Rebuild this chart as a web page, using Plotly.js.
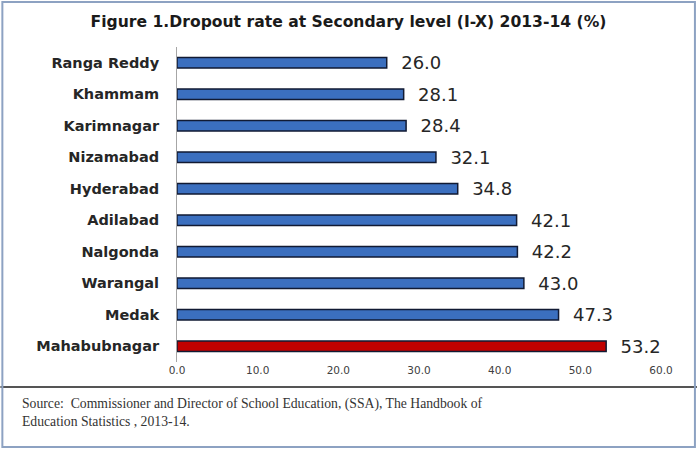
<!DOCTYPE html>
<html><head><meta charset="utf-8">
<script src="https://cdn.plot.ly/plotly-3.0.1.min.js"></script>
<style>html,body{margin:0;padding:0;background:#fff}#chart{width:697px;height:450px}</style>
</head><body><div id="chart"></div>
<script>
const districts = ["Ranga Reddy","Khammam","Karimnagar","Nizamabad","Hyderabad","Adilabad","Nalgonda","Warangal","Medak","Mahabubnagar"];
const dropoutRate = [26.0,28.1,28.4,32.1,34.8,42.1,42.2,43.0,47.3,53.2];
const tickValues = [0,10,20,30,40,50,60];
const tickLabels = ["0.0","10.0","20.0","30.0","40.0","50.0","60.0"];

const colors = districts.map(d => d === "Mahabubnagar" ? "#c00000" : "#3b6fbf");
const trace = {
  type: "bar", orientation: "h",
  y: districts, x: dropoutRate,
  marker: {color: colors, line: {color: "#111a33", width: 1.5}},
  text: dropoutRate.map(v => "  " + v.toFixed(1)),
  textposition: "outside",
  constraintext: "none",
  textfont: {family: "DejaVu Sans, sans-serif", size: 18, color: "#262626"},
  cliponaxis: false,
  hoverinfo: "none"
};
const layout = {
  width: 697, height: 450,
  margin: {l: 177, r: 36, t: 47, b: 88},
  paper_bgcolor: "#fff", plot_bgcolor: "#fff",
  showlegend: false,
  bargap: 0.66,
  title: {text: "<b>Figure 1.Dropout rate at Secondary level (I-X) 2013-14 (%)</b>",
          font: {family: "DejaVu Sans, sans-serif", size: 15.6, color: "#1a1a1a"},
          x: 0.5, xanchor: "center", y: 0.952, yanchor: "middle"},
  xaxis: {range: [0, 60], tickvals: tickValues, ticktext: tickLabels, showgrid: false,
          zeroline: false, showline: false, ticks: "",
          tickfont: {family: "DejaVu Sans, sans-serif", size: 10.5, color: "#404040"}},
  yaxis: {autorange: "reversed", showgrid: false, zeroline: false,
          showline: true, linecolor: "#a6a6a6", linewidth: 1, ticks: "",
          ticklabelstandoff: 14,
          tickfont: {family: "DejaVu Sans, sans-serif", size: 14.5, color: "#262626", weight: "bold"}},
  shapes: [
    {type: "line", xref: "paper", yref: "paper", x0: -177/485, x1: 1 + 36/485, y0: -25/315, y1: -25/315,
     line: {color: "#555", width: 2}},
    {type: "rect", xref: "paper", yref: "paper", x0: -175/485, x1: 1 + 34/485, y0: -85/315, y1: 1 + 45/315,
     line: {color: "#8da2c2", width: 2}}
  ],
  annotations: [
    {xref: "paper", yref: "paper", x: -157/485, y: -32/315, xanchor: "left", yanchor: "top", align: "left",
     showarrow: false,
     text: "Source:  Commissioner and Director of School Education, (SSA), The Handbook of<br>Education Statistics , 2013-14.",
     font: {family: "Liberation Serif, serif", size: 13.7, color: "#333"}}
  ]
};
Plotly.newPlot("chart", [trace], layout, {displayModeBar: false, staticPlot: true});
</script></body></html>
